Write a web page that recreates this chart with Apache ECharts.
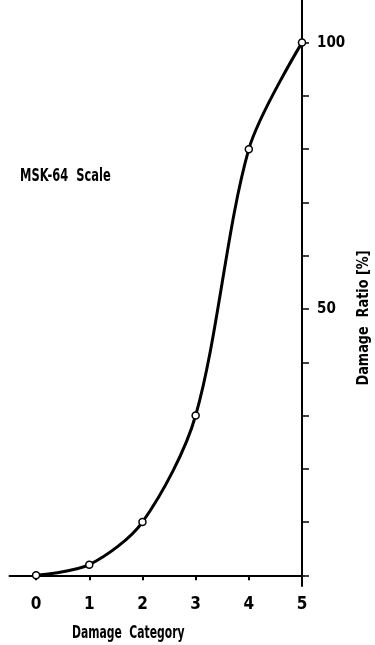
<!DOCTYPE html>
<html>
<head>
<meta charset="utf-8">
<script src="https://cdn.jsdelivr.net/npm/echarts@6/dist/echarts.min.js"></script>
<style>html,body{margin:0;padding:0;background:#fff}#c{width:375px;height:645px}</style>
</head>
<body>
<div id="c"></div>
<script>
const categories = [0, 1, 2, 3, 4, 5];
const damageRatio = [0, 2, 10, 30, 80, 100];
const xTickLabels = [0, 1, 2, 3, 4, 5];
const yTicks = [0, 10, 20, 30, 40, 50, 60, 70, 80, 90, 100];
const yTickLabels = [50, 100];

const FONT = '"DejaVu Sans Condensed", "Liberation Sans Narrow", sans-serif';
const chart = echarts.init(document.getElementById('c'));
chart.setOption({
  animation: false,
  backgroundColor: '#fff',
  grid: { left: 9.5, right: 73, top: 0, bottom: 59 },
  xAxis: {
    type: 'value', min: -0.5, max: 5,
    axisLine: { onZero: true, lineStyle: { color: '#000', width: 2 } },
    axisTick: { show: true, length: 5, lineStyle: { color: '#000', width: 2 }, customValues: xTickLabels },
    axisLabel: { customValues: xTickLabels, color: '#000', fontFamily: FONT, fontWeight: 'bold', fontSize: 17, margin: 10 },
    splitLine: { show: false }
  },
  yAxis: {
    type: 'value', position: 'right', min: -2, max: 108,
    axisLine: { show: true, onZero: false, lineStyle: { color: '#000', width: 2 } },
    axisTick: { show: true, length: 7, lineStyle: { color: '#000', width: 1.5 }, customValues: yTicks },
    axisLabel: { customValues: yTickLabels, color: '#000', fontFamily: FONT, fontWeight: 'bold', fontSize: 15, margin: 15 },
    splitLine: { show: false }
  },
  graphic: [
    { type: 'text', x: 20, y: 177, scaleX: 0.85, scaleY: 1.15, style: { text: 'MSK-64  Scale', font: 'bold 15px ' + FONT, fill: '#000', verticalAlign: 'middle' } },
    { type: 'text', x: 72, y: 634, scaleX: 0.8, scaleY: 1.15, style: { text: 'Damage  Category', font: 'bold 15px ' + FONT, fill: '#000', verticalAlign: 'middle' } },
    { type: 'text', x: 364, y: 318, rotation: Math.PI / 2, scaleX: 0.95, scaleY: 1.1, style: { text: 'Damage  Ratio [%]', font: 'bold 15px ' + FONT, fill: '#000', align: 'center', verticalAlign: 'middle' } }
  ],
  series: [{
    type: 'line',
    data: categories.map((c, i) => [c, damageRatio[i]]),
    smooth: 0.3,
    symbol: 'circle', symbolSize: 7,
    lineStyle: { color: '#000', width: 3 },
    itemStyle: { color: '#fff', borderColor: '#000', borderWidth: 1.5 },
    z: 5
  }]
});
</script>
</body>
</html>
